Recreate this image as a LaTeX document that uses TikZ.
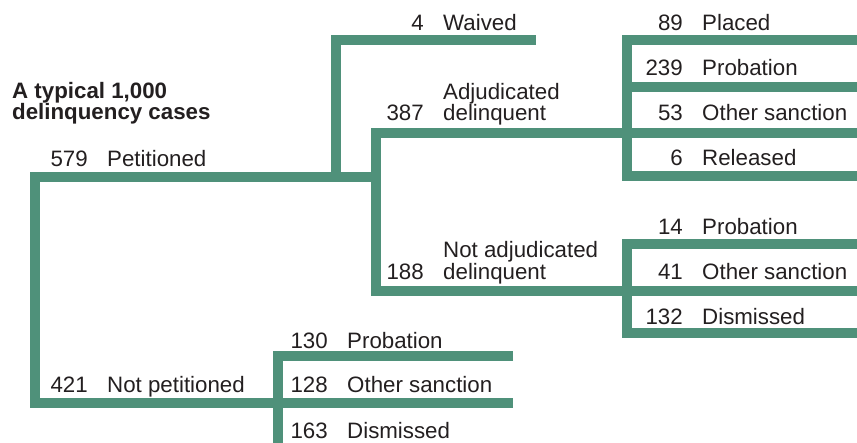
\documentclass[tikz,border=0pt]{standalone}
\usepackage{fontspec}
\setmainfont{Liberation Sans}
\usetikzlibrary{positioning}
\definecolor{branchgreen}{HTML}{4F917A}
\definecolor{inkgray}{HTML}{231F20}

\begin{document}
\begin{tikzpicture}[x=1pt, y=-1pt,
    branch/.style={draw=branchgreen, line width=10.5pt, line join=miter},
    num/.style={anchor=base east, inner sep=0pt, text=inkgray,
        font=\fontsize{22.3}{21}\selectfont},
    lbl/.style={inner sep=0pt, text=inkgray,
        font=\fontsize{22.3}{21}\selectfont},
    heading/.style={anchor=base west, inner sep=0pt, text=inkgray,
        font=\fontsize{22.3}{21}\selectfont\bfseries},
    node distance=19pt]
    \useasboundingbox (0,0) rectangle (857,443);

    % junctions and free ends of the tree
    \coordinate (top) at (35,177);
    \coordinate (bottom) at (35,403);
    \coordinate (pet) at (376,177);
    \coordinate (npet) at (278,403);
    \coordinate (wfoot) at (336,177);
    \coordinate (waived) at (536,40);
    \coordinate (adj) at (627,133);
    \coordinate (nadj) at (627,291);
    \coordinate (placed) at (860,40);
    \coordinate (aprob) at (860,87);
    \coordinate (aother) at (860,133);
    \coordinate (released) at (860,176);
    \coordinate (nprob) at (860,244);
    \coordinate (nother) at (860,291);
    \coordinate (ndism) at (860,333);
    \coordinate (bprob) at (513,356);
    \coordinate (bother) at (513,403);
    \coordinate (bdism) at (513,448);

    % branches
    \draw[branch] (pet) -- (top) -- (bottom) -- (npet);
    \draw[branch] (wfoot) |- (waived);
    \draw[branch] (adj) -| (pet) |- (nadj);
    \draw[branch] (placed) -| (adj) |- (released);
    \draw[branch] (aprob -| adj) -- (aprob);
    \draw[branch] (adj) -- (aother);
    \draw[branch] (nprob) -| (nadj) |- (ndism);
    \draw[branch] (nadj) -- (nother);
    \draw[branch] (bprob) -| (npet) |- (bdism);
    \draw[branch] (npet) -- (bother);

    % heading
    \node[heading] (head1) at (12,99) {A typical 1,000};
    \node[heading] (head2) at (12,120) {delinquency cases};

    % first split
    \node[num] (n579) at (88,167) {579};
    \node[lbl, base right=of n579] (tpet) {Petitioned};
    \node[num] (n421) at (88,393) {421};
    \node[lbl, base right=of n421] (tnpet) {Not petitioned};

    % petitioned
    \node[num] (n4) at (424,31) {4};
    \node[lbl, base right=of n4] (twaived) {Waived};
    \node[num] (n387) at (424,120.5) {387};
    \node[lbl, base right=of n387] (tadj2) {delinquent};
    \node[lbl, anchor=base west] (tadj1) at ([yshift=21pt]tadj2.base west) {Adjudicated};
    \node[num] (n188) at (424,280) {188};
    \node[lbl, base right=of n188] (tnadj2) {delinquent};
    \node[lbl, anchor=base west] (tnadj1) at ([yshift=22.5pt]tnadj2.base west) {Not adjudicated};

    % adjudicated delinquent
    \node[num] (n89) at (683,31) {89};
    \node[lbl, base right=of n89] (tplaced) {Placed};
    \node[num] (n239) at (683,76) {239};
    \node[lbl, base right=of n239] (taprob) {Probation};
    \node[num] (n53) at (683,121) {53};
    \node[lbl, base right=of n53] (taother) {Other sanction};
    \node[num] (n6) at (683,166) {6};
    \node[lbl, base right=of n6] (treleased) {Released};

    % not adjudicated delinquent
    \node[num] (n14) at (683,235) {14};
    \node[lbl, base right=of n14] (tnprob) {Probation};
    \node[num] (n41) at (683,280) {41};
    \node[lbl, base right=of n41] (tnother) {Other sanction};
    \node[num] (n132) at (683,324.5) {132};
    \node[lbl, base right=of n132] (tndism) {Dismissed};

    % not petitioned
    \node[num] (n130) at (328,348.5) {130};
    \node[lbl, base right=of n130] (tbprob) {Probation};
    \node[num] (n128) at (328,393) {128};
    \node[lbl, base right=of n128] (tbother) {Other sanction};
    \node[num] (n163) at (328,438.5) {163};
    \node[lbl, base right=of n163] (tbdism) {Dismissed};
\end{tikzpicture}
\end{document}
